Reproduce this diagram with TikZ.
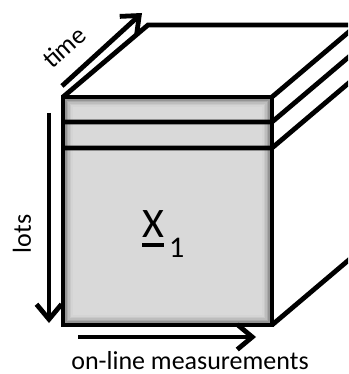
\documentclass[tikz,border=0pt]{standalone}
\usepackage{fontspec}
\setmainfont{Carlito}
\usetikzlibrary{arrows.meta,calc}

\tikzset{
  edge/.style={line width=4.8pt, line join=miter},
  axisarrow/.style={line width=4.8pt, -{Straight Barb[length=15pt,width=25pt]}},
  lbl/.style={font=\fontsize{26}{30}\selectfont, inner sep=0pt},
}

\begin{document}
\begin{tikzpicture}[x=1pt, y=-1pt]
    \useasboundingbox (0,0) rectangle (348,374);
    \begin{scope}
    \clip (0,0) rectangle (348,374);
    % front face corners, depth direction (85,-72)
    \coordinate (fa) at (63,97);
    \coordinate (fb) at (272,97);
    \coordinate (fc) at (272,325);
    \coordinate (fd) at (63,325);
    \coordinate (sa) at (63,122);
    \coordinate (sb) at (272,122);
    \coordinate (ta) at (63,148);
    \coordinate (tb) at (272,148);

    \fill[white] (fa) -- ++(85,-72) -- ++(300,0) -- ++(0,400) -- (fc) -- (fb) -- cycle;
    \fill[black!15] (fa) rectangle (fc);
    \foreach \i/\c in {3/42,4.5/33,6/26,7.5/21,9/17}
        \draw[black!\c, line width=1.6pt] ($(fa)+(\i,\i)$) rectangle ($(fc)+(-\i,-\i)$);

    \draw[edge] (fa) -- (fb) -- (fc) -- (fd) -- cycle;
    \draw[edge] (fa) -- ++(85,-72) -- ++(300,0);
    \draw[edge] (fb) -- ++(85,-72);
    \draw[edge] (fc) -- ++(85,-72);
    \draw[edge] (sa) -- (sb) -- ++(85,-72);
    \draw[edge] (ta) -- (tb) -- ++(85,-72);
    \end{scope}

    % axes
    \coordinate (time0) at (62,86);
    \coordinate (time1) at (142,13);
    \coordinate (lots0) at (49,113);
    \coordinate (lots1) at (49,323);
    \coordinate (meas0) at (78,337);
    \coordinate (meas1) at (256,337);
    \draw[axisarrow] (time0) -- (time1);
    \draw[axisarrow] (lots0) -- (lots1);
    \draw[axisarrow] (meas0) -- (meas1);

    \node[lbl, rotate=42] (timelbl) at (64,47) {time};
    \node[lbl, rotate=90] (lotslbl) at (22,234) {lots};
    \node[lbl, anchor=base] (measlbl) at (190,369) {on-line measurements};
    \node[inner sep=0pt, anchor=base west, font=\fontsize{42}{44}\selectfont] (xlbl) at (142,237) {X};
    \node[inner sep=0pt, anchor=base west, font=\fontsize{30}{32}\selectfont] (sublbl) at (169,257) {1};
    \draw[line width=4pt] ([yshift=-8pt]xlbl.base west) -- ([yshift=-8pt]xlbl.base east);
\end{tikzpicture}
\end{document}
